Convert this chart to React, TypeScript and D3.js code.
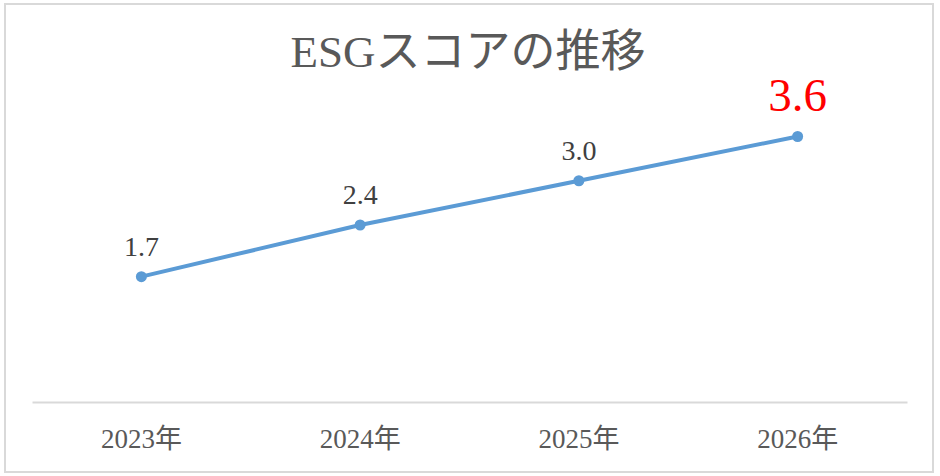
import React, { useEffect, useRef } from 'react';
import * as d3 from 'd3';

const years = ['2023年', '2024年', '2025年', '2026年'];
const scores = [1.7, 2.4, 3.0, 3.6];
const title = 'ESGスコアの推移';

const W = 940;
const H = 476;
const serif = '"Liberation Serif", "DejaVu Serif", "Noto Sans CJK JP", serif';

const App: React.FC = () => {
  const svgRef = useRef<SVGSVGElement>(null);

  useEffect(() => {
    if (!svgRef.current) return;
    const svg = d3.select(svgRef.current);
    svg.selectAll('*').remove();

    const margin = { top: 107, right: 33, bottom: 74, left: 32 };

    // outer frame
    svg.append('rect')
      .attr('x', 5).attr('y', 4)
      .attr('width', 928).attr('height', 468)
      .attr('fill', 'white')
      .attr('stroke', '#d9d9d9')
      .attr('stroke-width', 2);

    svg.append('text')
      .attr('x', 468)
      .attr('y', 67)
      .attr('text-anchor', 'middle')
      .attr('fill', '#595959')
      .attr('font-family', serif)
      .attr('font-size', '45px')
      .text(title);

    const x = d3.scaleBand<string>()
      .domain(years)
      .range([margin.left, W - margin.right]);

    const y = d3.scaleLinear()
      .domain([0, 4])
      .range([H - margin.bottom, margin.top]);

    // category axis
    const xAxis = svg.append('g')
      .attr('transform', `translate(0,${H - margin.bottom})`)
      .call(d3.axisBottom(x).tickSize(0).tickPadding(27));
    xAxis.select('.domain')
      .attr('stroke', '#d9d9d9')
      .attr('stroke-width', 2);
    xAxis.selectAll('text')
      .attr('fill', '#595959')
      .attr('font-family', serif)
      .attr('font-size', '27px');

    const cx = (d: string) => (x(d) || 0) + x.bandwidth() / 2;

    const line = d3.line<number>()
      .x((_, i) => cx(years[i]))
      .y(d => y(d));

    svg.append('path')
      .datum(scores)
      .attr('d', line)
      .attr('fill', 'none')
      .attr('stroke', '#5b9bd5')
      .attr('stroke-width', 4)
      .attr('stroke-linecap', 'round')
      .attr('stroke-linejoin', 'round');

    svg.selectAll('.dot')
      .data(scores)
      .enter()
      .append('circle')
      .attr('class', 'dot')
      .attr('cx', (_, i) => cx(years[i]))
      .attr('cy', d => y(d))
      .attr('r', 5.5)
      .attr('fill', '#5b9bd5');

    const last = scores.length - 1;
    svg.selectAll('.lbl')
      .data(scores)
      .enter()
      .append('text')
      .attr('class', 'lbl')
      .attr('x', (_, i) => cx(years[i]))
      .attr('y', (d, i) => y(d) - (i === last ? 26 : 21))
      .attr('text-anchor', 'middle')
      .attr('fill', (_, i) => i === last ? '#ff0000' : '#404040')
      .attr('font-family', serif)
      .attr('font-size', (_, i) => i === last ? '47px' : '28px')
      .text(d => d.toFixed(1));
  }, []);

  return (
    <svg
      ref={svgRef}
      width={W}
      height={H}
      style={{ position: 'fixed', left: 0, top: 0, background: 'white' }}
    />
  );
};

export default App;
